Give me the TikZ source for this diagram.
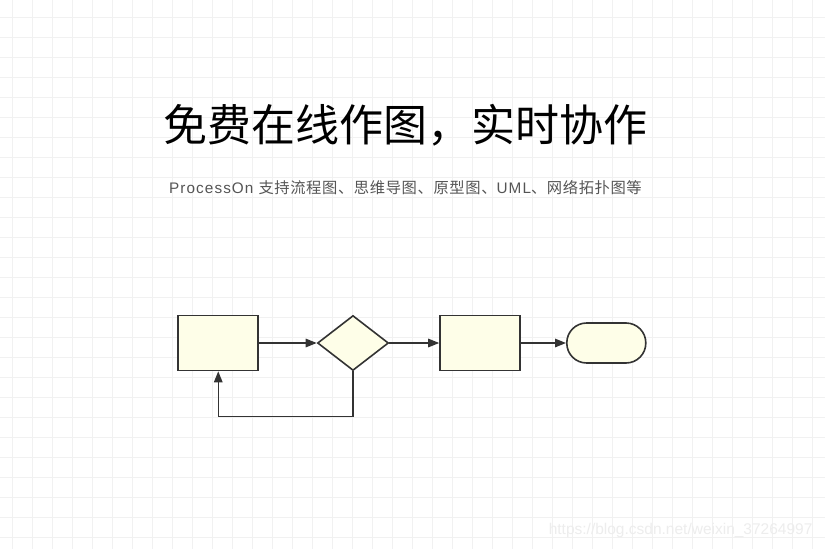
\documentclass[tikz,border=0pt]{standalone}
\usepackage{fontspec}
\setmainfont{Noto Sans CJK SC}
\newfontfamily\urlfont{Liberation Sans}
\newfontfamily\latinfont{Liberation Sans}[LetterSpace=7]
\newfontfamily\subfont{Noto Sans CJK SC}[LetterSpace=4]
\usepackage{xcolor}
\usetikzlibrary{arrows.meta,positioning,shapes.geometric}
\definecolor{gridgray}{HTML}{F1F1F1}
\definecolor{ink}{HTML}{333333}
\definecolor{paper}{HTML}{FEFEE8}
\definecolor{subgray}{HTML}{555555}
\definecolor{markgray}{HTML}{EDEDED}

\begin{document}
\begin{tikzpicture}[x=1pt,y=-1pt,
    box/.style={draw=ink,fill=paper,line width=1.6pt,minimum width=80pt,minimum height=55pt,inner sep=0pt},
    decide/.style={diamond,draw=ink,fill=paper,line width=1.6pt,minimum width=71pt,minimum height=55pt,inner sep=0pt},
    terminal/.style={draw=ink,fill=paper,line width=1.6pt,rounded corners=19.8pt,minimum width=79pt,minimum height=40pt,inner sep=0pt},
    flow/.style={draw=ink,line width=1.5pt,-{Triangle[length=11pt,width=8.5pt]}}]
  \useasboundingbox (0,0) rectangle (825,549);
  \fill[white] (0,0) rectangle (825,549);
  % grid
  \foreach \x in {12.5,32.5,...,812.5}
    \draw[gridgray,line width=0.8pt] (\x,0) -- (\x,549);
  \foreach \y in {17.5,37.5,...,537.5}
    \draw[gridgray,line width=0.8pt] (0,\y) -- (825,\y);
  % headings
  \node[text=black,font=\fontsize{44}{48}\selectfont] (title) at (405,125) {免费在线作图，实时协作};
  \node[text=subgray,font=\subfont\fontsize{15.3}{18}\selectfont] (subtitle) at (405.5,188)
    {{\latinfont ProcessOn}\hspace{1pt} 支持流程图、思维导图、原型图、{\latinfont UML}、网络拓扑图等};
  % flow chart
  \node[box] (task) at (218.25,343) {};
  \node[decide] (check) at (353,343) {};
  \node[box] (action) at (480,343) {};
  \node[terminal] (finish) at (606.3,343) {};
  \draw[flow] (task) -- (check);
  \draw[flow] (check) -- (action);
  \draw[flow] (action) -- (finish);
  \draw[flow] (check.south) -- ++(0,45) -| (task.south);
  % watermark
  \node[text=markgray,font=\urlfont\fontsize{15.5}{18}\selectfont,anchor=east] (mark) at (816,530) {https://blog.csdn.net/weixin\_37264997};
\end{tikzpicture}
\end{document}
